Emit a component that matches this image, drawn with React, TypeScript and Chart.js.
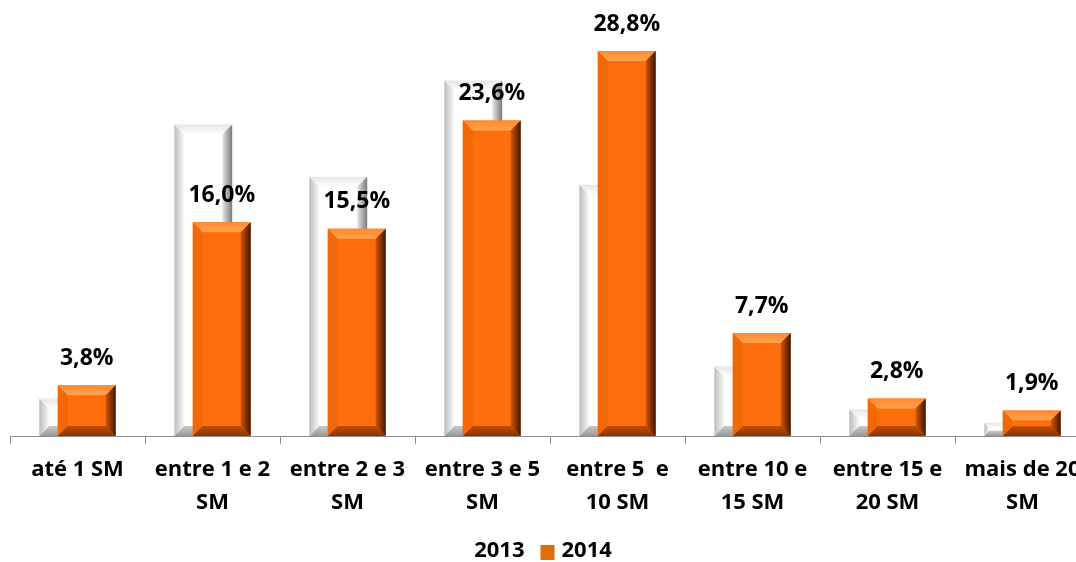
import React, { useEffect, useRef } from "react";
import { Chart, registerables } from "chart.js";

Chart.register(...registerables);

const categories: string[][] = [
  ["até 1 SM"],
  ["entre 1 e 2", "SM"],
  ["entre 2 e 3", "SM"],
  ["entre 3 e 5", "SM"],
  ["entre 5  e", "10 SM"],
  ["entre 10 e", "15 SM"],
  ["entre 15 e", "20 SM"],
  ["mais de 20", "SM"],
];
const values2013: number[] = [2.8, 23.3, 19.4, 26.6, 18.8, 5.2, 2.0, 1.0];
const values2014: number[] = [3.8, 16.0, 15.5, 23.6, 28.8, 7.7, 2.8, 1.9];
const seriesNames: string[] = ["2013", "2014"];
const legendColors: string[] = ["#FFFFFF", "#E36C09"];

const FONT = "'Open Sans', sans-serif";

function poly(ctx: CanvasRenderingContext2D, pts: number[][], fill: any) {
  ctx.beginPath();
  ctx.moveTo(pts[0][0], pts[0][1]);
  for (let i = 1; i < pts.length; i++) ctx.lineTo(pts[i][0], pts[i][1]);
  ctx.closePath();
  ctx.fillStyle = fill;
  ctx.fill();
}

function drawBevel(chart: any, idx: number) {
  const ctx: CanvasRenderingContext2D = chart.ctx;
  const meta = chart.getDatasetMeta(idx);
  ctx.save();
  meta.data.forEach((el: any) => {
    const { x, y, base, width } = el.getProps(["x", "y", "base", "width"], true);
    const l = x - width / 2;
    const r = x + width / 2;
    const t = y;
    const btm = base;
    const h = btm - t;
    const b = Math.min(10, h / 2.6);
    if (idx === 1) {
      poly(ctx, [[l, t], [l + b, t + b], [l + b, btm - b], [l, btm]], "#F26806");
      let g = ctx.createLinearGradient(0, t, 0, t + b);
      g.addColorStop(0, "#FF8A30");
      g.addColorStop(1, "#FFA24E");
      poly(ctx, [[l, t], [r, t], [r - b, t + b], [l + b, t + b]], g);
      g = ctx.createLinearGradient(r - b, 0, r, 0);
      g.addColorStop(0, "#D85400");
      g.addColorStop(1, "#3E1600");
      poly(ctx, [[r, t], [r, btm], [r - b, btm - b], [r - b, t + b]], g);
      g = ctx.createLinearGradient(0, btm - b, 0, btm);
      g.addColorStop(0, "#C04C00");
      g.addColorStop(1, "#8A3400");
      poly(ctx, [[l, btm], [r, btm], [r - b, btm - b], [l + b, btm - b]], g);
    } else {
      let g = ctx.createLinearGradient(l, 0, l + b, 0);
      g.addColorStop(0, "#BDBDBD");
      g.addColorStop(1, "#FAFAFA");
      poly(ctx, [[l, t], [l + b, t + b], [l + b, btm - b], [l, btm]], g);
      g = ctx.createLinearGradient(0, t, 0, t + b);
      g.addColorStop(0, "#E6E6E6");
      g.addColorStop(1, "#FFFFFF");
      poly(ctx, [[l, t], [r, t], [r - b, t + b], [l + b, t + b]], g);
      g = ctx.createLinearGradient(r - b, 0, r, 0);
      g.addColorStop(0, "#E8E8E8");
      g.addColorStop(1, "#7A7A7A");
      poly(ctx, [[r, t], [r, btm], [r - b, btm - b], [r - b, t + b]], g);
      g = ctx.createLinearGradient(0, btm - b, 0, btm);
      g.addColorStop(0, "#C8C8C8");
      g.addColorStop(1, "#9A9A9A");
      poly(ctx, [[l, btm], [r, btm], [r - b, btm - b], [l + b, btm - b]], g);
    }
  });
  ctx.restore();
}

const orderPlugin = {
  id: "forwardOrder",
  beforeDatasetsDraw(chart: any) {
    for (let i = 0; i < chart.data.datasets.length; i++) {
      const meta = chart.getDatasetMeta(i);
      meta.controller.draw();
      drawBevel(chart, i);
    }
    return false;
  },
  afterDraw(chart: any) {
    const ctx: CanvasRenderingContext2D = chart.ctx;
    const meta = chart.getDatasetMeta(1);
    ctx.save();
    ctx.font = `bold 23px ${FONT}`;
    ctx.fillStyle = "#000000";
    ctx.textAlign = "center";
    ctx.textBaseline = "middle";
    meta.data.forEach((el: any, i: number) => {
      const { x, y } = el.getProps(["x", "y"], true);
      ctx.fillText(values2014[i].toFixed(1).replace(".", ",") + "%", x, y - 27);
    });

    // legend
    ctx.font = `bold 22px ${FONT}`;
    ctx.textAlign = "left";
    const w0 = ctx.measureText(seriesNames[0]).width;
    const w1 = ctx.measureText(seriesNames[1]).width;
    const gap = 16;
    const box = 14;
    const gap2 = 7;
    const total = w0 + gap + box + gap2 + w1;
    let xx = 543 - total / 2;
    const cy = 551;
    ctx.fillText(seriesNames[0], xx, cy);
    xx += w0 + gap;
    ctx.fillStyle = legendColors[1];
    ctx.fillRect(xx, cy - 6, box, 15);
    xx += box + gap2;
    ctx.fillStyle = "#000000";
    ctx.fillText(seriesNames[1], xx, cy);
    ctx.restore();
  },
};

export default function App() {
  const ref = useRef<HTMLCanvasElement>(null);
  useEffect(() => {
    document.body.style.overflow = "hidden";
    const chart = new Chart(ref.current!, {
      type: "bar",
      data: {
        labels: categories,
        datasets: [
          {
            label: seriesNames[0],
            data: values2013,
            backgroundColor: "#FFFFFF",
            borderWidth: 0,
            categoryPercentage: 0.274,
            barPercentage: 3.13,
          },
          {
            label: seriesNames[1],
            data: values2014,
            backgroundColor: "#FF6E0C",
            borderWidth: 0,
            categoryPercentage: 0.274,
            barPercentage: 3.13,
          },
        ],
      },
      options: {
        animation: false,
        responsive: false,
        maintainAspectRatio: false,
        layout: { padding: { left: 10, right: 10, top: 35, bottom: 30 } },
        scales: {
          x: {
            offset: true,
            afterFit: (scale: any) => {
              scale.height = 96;
            },
            grid: {
              offset: true,
              drawOnChartArea: false,
              drawTicks: true,
              tickLength: 8,
              color: "#8C8C8C",
            },
            border: { color: "#8C8C8C", width: 1 },
            ticks: {
              color: "#000000",
              font: { family: FONT, size: 22, weight: "bold", lineHeight: 1.5 },
              maxRotation: 0,
              autoSkip: false,
              padding: 9,
            },
          },
          y: {
            display: false,
            min: 0,
            max: 30,
          },
        },
        plugins: {
          legend: { display: false },
          tooltip: { enabled: false },
        },
      },
      plugins: [orderPlugin],
    });
    return () => chart.destroy();
  }, []);
  return (
    <div style={{ position: "fixed", left: 0, top: 0, width: 1100, height: 562 }}>
      <canvas ref={ref} width={1100} height={562} style={{ display: "block" }} />
    </div>
  );
}
